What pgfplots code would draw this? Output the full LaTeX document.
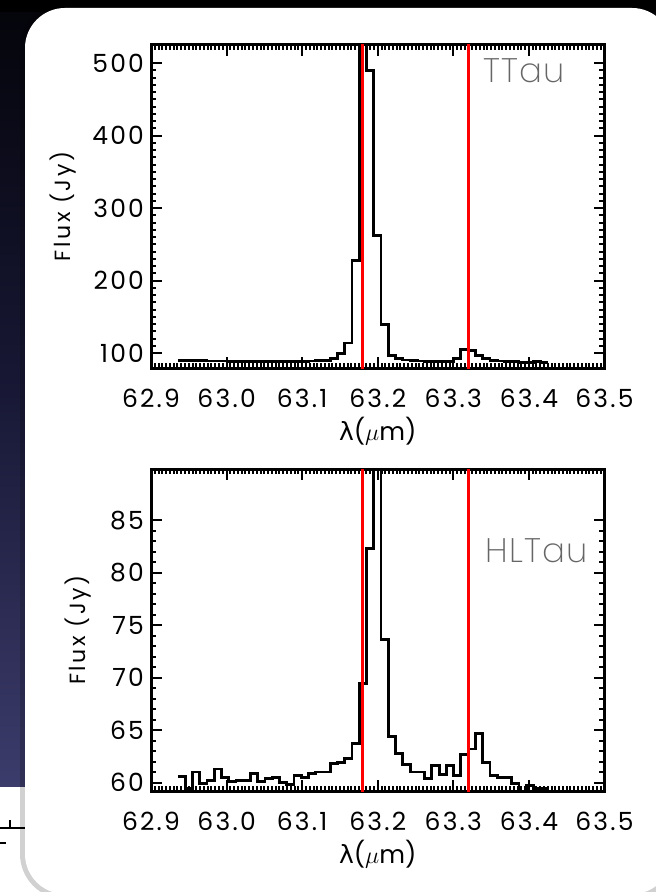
\documentclass[border=0pt]{standalone}
\usepackage{fontspec}
\usepackage{pgfplots}
\pgfplotsset{compat=1.18}
\setmainfont{Poppins}
\newfontfamily\dejavu{DejaVu Sans}
\IfFontExistsTF{Poppins ExtraLight}{\newfontfamily\thinfont{Poppins ExtraLight}[LetterSpace=4]}{%
 \IfFontExistsTF{Poppins Light}{\newfontfamily\thinfont{Poppins Light}[LetterSpace=4]}{%
  \IfFontExistsTF{Lato Light}{\newfontfamily\thinfont{Lato Light}[LetterSpace=8]}{\newfontfamily\thinfont{Poppins}[LetterSpace=4]}}}
\newfontfamily\labfont{Poppins}[LetterSpace=12]
\newfontfamily\tickfont{Poppins}[LetterSpace=9]
\definecolor{bgtop}{RGB}{4,4,10}
\definecolor{bgmid}{RGB}{24,24,54}
\definecolor{bgbot}{RGB}{60,60,108}

\pgfplotstableread{
x y
62.9356 90
62.9452 90
62.9548 89.5
62.9644 89.5
62.9740 89
62.9836 89
62.9932 89
63.0028 88.5
63.0124 88.5
63.0220 88.5
63.0316 88
63.0412 88
63.0508 88
63.0604 88
63.0700 88
63.0796 88
63.0892 88
63.0988 88.5
63.1084 89
63.1180 89.5
63.1276 90
63.1372 93
63.1468 99
63.1564 114
63.1660 228
63.1756 640
63.1852 490
63.1948 262
63.2044 139
63.2140 97
63.2236 92
63.2332 90.5
63.2428 89.5
63.2524 89
63.2620 88.5
63.2716 88
63.2812 88
63.2908 88.5
63.3004 92
63.3100 104.5
63.3196 104
63.3292 97
63.3388 92
63.3484 90
63.3580 89
63.3676 88.5
63.3772 88
63.3868 87.5
63.3964 87
63.4060 88.5
63.4156 87
63.4252 87
}\ttau

\pgfplotstableread{
x y
62.9356 60.6
62.9452 59.4
62.9548 61.0
62.9644 59.9
62.9740 60.2
62.9836 61.3
62.9932 60.5
63.0028 60.1
63.0124 60.2
63.0220 60.2
63.0316 60.9
63.0412 60.1
63.0508 60.4
63.0604 60.5
63.0700 60.0
63.0796 59.8
63.0892 60.7
63.0988 60.5
63.1084 60.9
63.1180 61.0
63.1276 61.0
63.1372 61.8
63.1468 61.9
63.1564 62.3
63.1660 63.7
63.1756 69.4
63.1852 82.3
63.1948 95
63.2044 73.6
63.2140 64.4
63.2236 62.8
63.2332 61.7
63.2428 61.0
63.2524 61.0
63.2620 60.4
63.2716 61.6
63.2812 60.8
63.2908 61.6
63.3004 60.7
63.3100 62.7
63.3196 63.2
63.3292 64.7
63.3388 61.9
63.3484 60.7
63.3580 60.5
63.3676 60.5
63.3772 59.9
63.3868 59.2
63.3964 59.7
63.4060 59.4
63.4156 59.4
63.4252 59.4
}\hltau

\pgfplotsset{
  idl/.style={
    scale only axis,
    width=226.75pt,
    xmin=62.9, xmax=63.5,
    xtick={62.9,63.0,63.1,63.2,63.3,63.4,63.5},
    xticklabels={62.9,63.0,63.1,63.2,63.3,63.4,63.5},
    minor x tick num=19,
    tick align=inside,
    tick pos=both,
    major tick length=5.5pt,
    minor tick length=2.6pt,
    every tick/.style={black, line width=1pt},
    axis line style={line width=1.5pt},
    tick label style={font=\tickfont\fontsize{12.5}{14}\selectfont},
    xticklabel style={anchor=center, yshift=-15pt},
    /pgf/number format/assume math mode=true,
    xlabel={{\dejavu λ}(\(\mu\)m)},
    xlabel style={font=\fontsize{12.5}{14}\selectfont, at={(axis description cs:0.5,0)}, anchor=center, yshift=-31.5pt},
    ylabel={Flux (Jy)},
    clip=true,
  }
}

\begin{document}
\begin{tikzpicture}[x=1pt,y=1pt]
\useasboundingbox (0,0) rectangle (328,446);
\fill[white] (0,0) rectangle (328,446);
\shade[top color=bgtop, bottom color=bgbot, middle color=bgmid] (0,52.5) rectangle (328,446);
\fill[black] (0,440) rectangle (328,446);
\draw[black, opacity=0.18, line width=5pt, rounded corners=20pt] (12.5,-1) rectangle (336,442);
\fill[white, rounded corners=20pt] (12.5,-1) rectangle (336,442);
\draw[black, line width=0.6pt] (0,32) -- (12.5,32);
\draw[black, line width=0.6pt] (5,32) -- (5,36);
\draw[black, line width=0.6pt] (0,24.5) -- (3,24.5);

\begin{axis}[idl, at={(75.5pt,261.85pt)}, anchor=south west,
  height=161.65pt, ymin=79, ymax=525,
  ytick={100,200,300,400,500}, minor y tick num=9,
  ylabel style={font=\labfont\fontsize{11}{12}\selectfont, at={(axis description cs:0,0.5)}, anchor=center, yshift=44pt}]
\addplot[const plot, black, line width=1.4pt] table[x=x,y=y] {\ttau};
\addplot[red, line width=1.3pt] coordinates {(63.18,0) (63.18,1000)};
\addplot[red, line width=1.3pt] coordinates {(63.32,0) (63.32,1000)};
\node[font=\thinfont\fontsize{17}{20}\selectfont, text=black!60] at (axis cs:63.3935,489) {TTau};
\end{axis}

\begin{axis}[idl, at={(75.5pt,50.4pt)}, anchor=south west,
  height=161pt, ymin=59.18, ymax=89.85,
  ytick={60,65,70,75,80,85}, minor y tick num=4,
  ylabel style={font=\labfont\fontsize{11}{12}\selectfont, at={(axis description cs:0,0.5)}, anchor=center, yshift=36.5pt}]
\addplot[const plot, black, line width=1.4pt] table[x=x,y=y] {\hltau};
\addplot[red, line width=1.3pt] coordinates {(63.18,0) (63.18,1000)};
\addplot[red, line width=1.3pt] coordinates {(63.32,0) (63.32,1000)};
\node[font=\thinfont\fontsize{17}{20}\selectfont, text=black!60] at (axis cs:63.41,82.1) {HLTau};
\end{axis}
\end{tikzpicture}
\end{document}
